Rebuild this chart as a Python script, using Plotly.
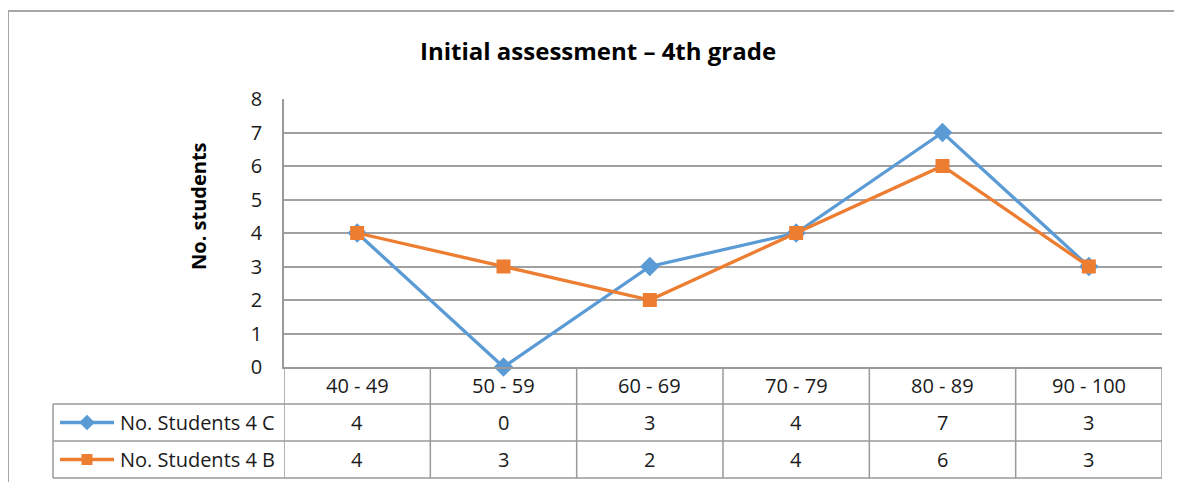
import plotly.graph_objects as go

# ---- data ----
categories = ["40 - 49", "50 - 59", "60 - 69", "70 - 79", "80 - 89", "90 - 100"]
students_4c = [4, 0, 3, 4, 7, 3]
students_4b = [4, 3, 2, 4, 6, 3]
series_names = ["No. Students 4 C", "No. Students 4 B"]
title_text = "Initial assessment – 4th grade"
y_title = "No. students"

# page body has an 8px margin: shift all pixel positions by OFF and size the
# figure so that it reaches the right/bottom edge of the window
OFF = 8
W, H = 1182 - OFF, 482 - OFF
BLUE = "#5B9BD5"
ORANGE = "#ED7D31"
GRID = "#a0a0a0"
TBL = "#9a9a9a"
FONT = "Open Sans"
FS = 20

def px(v):
    return v - OFF

# pixel layout (reference coordinates)
PX_L, PX_R, PX_T, PX_B = 284, 1162, 99, 367
ROW_Y = [367, 404, 441, 478]
LEG_L = 53

fig = go.Figure()

series = [(series_names[0], students_4c, BLUE, "diamond", 15),
          (series_names[1], students_4b, ORANGE, "square", 14)]
for name, vals, col, sym, ms in series:
    fig.add_trace(go.Scatter(
        x=categories, y=vals, mode="lines+markers", name=name,
        line=dict(color=col, width=3.3), marker=dict(symbol=sym, size=ms, color=col),
        xaxis="x", yaxis="y", showlegend=False, cliponaxis=False))

# legend keys in data-table (pixel overlay axes)
for i, (name, vals, col, sym, ms) in enumerate(series):
    yc = px((ROW_Y[i + 1] + ROW_Y[i + 2]) / 2)
    fig.add_trace(go.Scatter(x=[px(60), px(87), px(114)], y=[yc, yc, yc], mode="lines",
                             line=dict(color=col, width=3.3), xaxis="x2", yaxis="y2",
                             showlegend=False, hoverinfo="skip"))
    fig.add_trace(go.Scatter(x=[px(87)], y=[yc], mode="markers",
                             marker=dict(symbol=sym, size=ms - 3, color=col),
                             xaxis="x2", yaxis="y2", showlegend=False, hoverinfo="skip"))

shapes = []
# outer chart frame
shapes.append(dict(type="rect", xref="x2", yref="y2", x0=px(8), x1=W + 20, y0=px(11), y1=H + 20,
                   line=dict(color="#a6a6a6", width=2), layer="below"))
# table horizontal lines
for yy in ROW_Y[1:]:
    shapes.append(dict(type="line", xref="x2", yref="y2", x0=px(LEG_L), x1=px(PX_R), y0=px(yy), y1=px(yy),
                       line=dict(color=TBL, width=1.5)))
# table vertical lines at category boundaries
n = len(categories)
for i in range(n + 1):
    shapes.append(dict(type="line", xref="x", yref="y2", x0=i - 0.5, x1=i - 0.5,
                       y0=px(ROW_Y[0]), y1=px(ROW_Y[-1]), line=dict(color=TBL, width=1.5)))
# left edge of legend column
shapes.append(dict(type="line", xref="x2", yref="y2", x0=px(LEG_L), x1=px(LEG_L),
                   y0=px(ROW_Y[1]), y1=px(ROW_Y[-1]), line=dict(color=TBL, width=1.5)))

annotations = []
txtfont = dict(family=FONT, size=FS, color="#1a1a1a")
for i, c in enumerate(categories):
    annotations.append(dict(x=i, y=px((ROW_Y[0] + ROW_Y[1]) / 2), xref="x", yref="y2", text=c,
                            showarrow=False, font=txtfont))
    for r, vals in enumerate([students_4c, students_4b]):
        annotations.append(dict(x=i, y=px((ROW_Y[r + 1] + ROW_Y[r + 2]) / 2), xref="x", yref="y2",
                                text=str(vals[i]), showarrow=False, font=txtfont))
for r, name in enumerate(series_names):
    annotations.append(dict(x=px(118), y=px((ROW_Y[r + 1] + ROW_Y[r + 2]) / 2), xref="x2", yref="y2",
                            text=name, showarrow=False, xanchor="left", font=txtfont))
# title
annotations.append(dict(x=px(598), y=px(50), xref="x2", yref="y2", text="<b>" + title_text + "</b>",
                        showarrow=False, font=dict(family=FONT, size=24, color="#000000")))
annotations.append(dict(x=px(198), y=px(206), xref="x2", yref="y2", text="<b>" + y_title + "</b>",
                        textangle=-90, showarrow=False, font=dict(family=FONT, size=20, color="#000000")))

fig.update_layout(
    width=W, height=H, margin=dict(l=0, r=0, t=0, b=0, pad=0, autoexpand=False),
    paper_bgcolor="white", plot_bgcolor="rgba(0,0,0,0)",
    xaxis=dict(domain=[px(PX_L) / W, px(PX_R) / W], type="category", range=[-0.5, n - 0.5],
               showticklabels=False, showgrid=False, zeroline=False, showline=True,
               linecolor=TBL, linewidth=1.5, anchor="y", automargin=False),
    yaxis=dict(domain=[1 - px(PX_B) / H, 1 - px(PX_T) / H], range=[0, 8], dtick=1, tick0=0,
               showgrid=True, gridcolor=GRID, gridwidth=1.5, zeroline=False,
               showline=True, linecolor=TBL, linewidth=1.5, ticks="", ticklabelstandoff=16,
               tickfont=txtfont, anchor="x", automargin=False),
    xaxis2=dict(domain=[0, 1], range=[0, W], visible=False, anchor="y2", fixedrange=True,
                automargin=False),
    yaxis2=dict(domain=[0, 1], range=[H, 0], visible=False, anchor="x2", fixedrange=True,
                automargin=False),
    shapes=shapes, annotations=annotations,
)

fig.write_html("out.html")
